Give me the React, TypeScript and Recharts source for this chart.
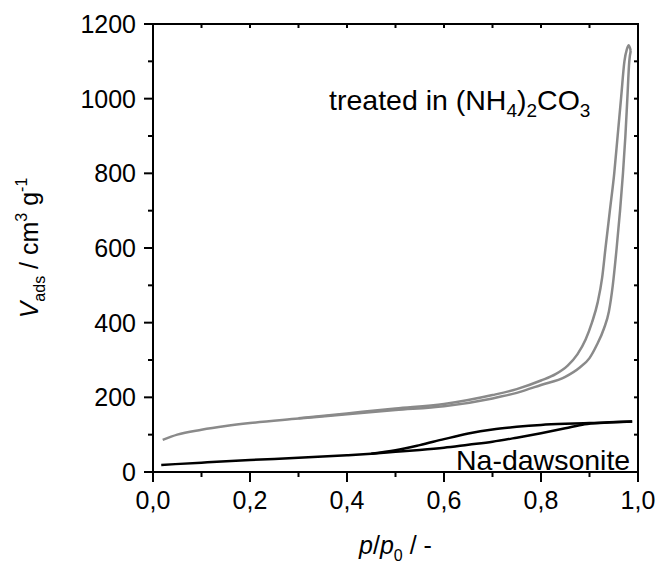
import React from "react";
import { LineChart, Line, XAxis, YAxis, ReferenceDot } from "recharts";

// treated in (NH4)2CO3 — adsorption branch
const treatedAdsP = [0.02, 0.05, 0.1, 0.15, 0.2, 0.3, 0.4, 0.5, 0.6, 0.7, 0.75, 0.8, 0.85, 0.88, 0.9, 0.915, 0.93, 0.94, 0.948, 0.956, 0.963, 0.969, 0.974, 0.978, 0.982, 0.985];
const treatedAdsV = [86, 100, 113, 123, 131, 143, 155, 166, 176, 197, 212, 233, 255, 280, 305, 340, 385, 430, 500, 600, 700, 800, 900, 1000, 1100, 1128];
// treated — desorption branch
const treatedDesP = [0.3, 0.4, 0.5, 0.6, 0.7, 0.75, 0.8, 0.83, 0.855, 0.875, 0.892, 0.905, 0.917, 0.926, 0.933, 0.942, 0.951, 0.958, 0.965, 0.972, 0.977, 0.981, 0.985];
const treatedDesV = [144, 157, 170, 182, 206, 222, 245, 262, 285, 315, 355, 400, 455, 520, 600, 700, 800, 900, 1000, 1100, 1132, 1143, 1128];
// Na-dawsonite
const naAdsP = [0.017, 0.1, 0.2, 0.3, 0.4, 0.45, 0.5, 0.55, 0.6, 0.65, 0.7, 0.75, 0.8, 0.85, 0.89, 0.93, 0.988];
const naAdsV = [19, 25, 32, 38, 45, 49, 54, 59, 65, 73, 81, 92, 104, 117, 128, 132, 135];
const naDesP = [0.45, 0.5, 0.55, 0.6, 0.65, 0.7, 0.75, 0.8, 0.85, 0.9, 0.95, 0.988];
const naDesV = [49, 58, 72, 88, 103, 114, 121, 126, 129, 131, 133, 135];

const xTicks = [0, 0.1, 0.2, 0.3, 0.4, 0.5, 0.6, 0.7, 0.8, 0.9, 1];
const yTicks = [0, 100, 200, 300, 400, 500, 600, 700, 800, 900, 1000, 1100, 1200];
const xMax = 1;
const yMax = 1200;

const toRows = (ps: number[], vs: number[]) => ps.map((p, i) => ({ p, v: vs[i] }));

const W = 657;
const H = 562;
const MARGIN = { top: 24, right: 19, bottom: 0, left: 0 };
const Y_AXIS_W = 153;
const X_AXIS_H = 90;
const PLOT = {
  left: MARGIN.left + Y_AXIS_W,
  right: W - MARGIN.right,
  top: MARGIN.top,
  bottom: H - MARGIN.bottom - X_AXIS_H,
};

const FONT = "Arial, 'Liberation Sans', sans-serif";
const GRAY = "#8a8a8a";

const isMajorX = (v: number) => Math.round(v * 10) % 2 === 0;
const isMajorY = (v: number) => Math.round(v) % 200 === 0;

const BottomTick = (props: any) => {
  const { x, y, payload } = props;
  const major = isMajorX(payload.value);
  return (
    <g>
      <line x1={x} y1={y} x2={x} y2={y + (major ? 10 : 5)} stroke="#000" strokeWidth={2} />
      {major && (
        <text x={x} y={y + 37} textAnchor="middle" fontSize={25} fontFamily={FONT} fill="#000">
          {payload.value.toFixed(1).replace(".", ",")}
        </text>
      )}
    </g>
  );
};

const LeftTick = (props: any) => {
  const { x, y, payload } = props;
  const major = isMajorY(payload.value);
  return (
    <g>
      <line x1={x - (major ? 9 : 5)} y1={y} x2={x} y2={y} stroke="#000" strokeWidth={2} />
      {major && (
        <text x={x - 17} y={y + 9} textAnchor="end" fontSize={25} fontFamily={FONT} fill="#000">
          {payload.value}
        </text>
      )}
    </g>
  );
};

const XTitle = (props: any) => {
  const { x, y, width } = props.viewBox;
  return (
    <text x={x + width / 2} y={y + 82} textAnchor="middle" fontSize={25} fontFamily={FONT} fill="#000">
      <tspan fontStyle="italic">p</tspan>
      <tspan>/</tspan>
      <tspan fontStyle="italic">p</tspan>
      <tspan fontSize={16} dy={7}>0</tspan>
      <tspan dy={-7}> / -</tspan>
    </text>
  );
};

const YTitle = (props: any) => {
  const { y, height } = props.viewBox;
  const cx = 38;
  const cy = y + height / 2;
  return (
    <text
      x={cx}
      y={cy}
      textAnchor="middle"
      transform={`rotate(-90 ${cx} ${cy})`}
      fontSize={25}
      fontFamily={FONT}
      fill="#000"
    >
      <tspan fontStyle="italic">V</tspan>
      <tspan fontSize={16} dy={7}>ads</tspan>
      <tspan dy={-7}> / cm</tspan>
      <tspan fontSize={16} dy={-11}>3</tspan>
      <tspan dy={11}> g</tspan>
      <tspan fontSize={16} dy={-11}>-1</tspan>
    </text>
  );
};

const TreatedLabel = (props: any) => {
  const { x, y } = props.viewBox;
  return (
    <text x={x} y={y} fontSize={28.5} fontFamily={FONT} fill="#000">
      <tspan>treated in (NH</tspan>
      <tspan fontSize={19} dy={7}>4</tspan>
      <tspan dy={-7}>)</tspan>
      <tspan fontSize={19} dy={7}>2</tspan>
      <tspan dy={-7}>CO</tspan>
      <tspan fontSize={19} dy={7}>3</tspan>
    </text>
  );
};

const NaLabel = (props: any) => {
  const { x, y } = props.viewBox;
  return (
    <text x={x} y={y} textAnchor="end" fontSize={28.5} fontFamily={FONT} fill="#000">
      Na-dawsonite
    </text>
  );
};

// top and right edges of the axis box with small inward ticks (mirror axes)
function BoxEdges() {
  const w = PLOT.right - PLOT.left;
  const h = PLOT.bottom - PLOT.top;
  return (
    <svg width={W} height={H} style={{ position: "absolute", left: 0, top: 0, pointerEvents: "none" }}>
      <polyline
        points={`${PLOT.left - 1},${PLOT.top} ${PLOT.right},${PLOT.top} ${PLOT.right},${PLOT.bottom + 1}`}
        fill="none"
        stroke="#000"
        strokeWidth={2}
      />
      {xTicks.map((t) => {
        const px = PLOT.left + (t / xMax) * w;
        return <line key={`t${t}`} x1={px} y1={PLOT.top} x2={px} y2={PLOT.top + 4} stroke="#000" strokeWidth={2} />;
      })}
      {yTicks.map((t) => {
        const py = PLOT.bottom - (t / yMax) * h;
        return <line key={`r${t}`} x1={PLOT.right - 4} y1={py} x2={PLOT.right} y2={py} stroke="#000" strokeWidth={2} />;
      })}
    </svg>
  );
}

export default function App() {
  return (
    <div style={{ position: "absolute", left: 0, top: 0, width: W, height: H, background: "#fff" }}>
      <LineChart width={W} height={H} margin={MARGIN}>
        <XAxis
          dataKey="p"
          type="number"
          domain={[0, xMax]}
          ticks={xTicks}
          interval={0}
          height={X_AXIS_H}
          tickSize={0}
          tickMargin={0}
          tickLine={false}
          axisLine={{ stroke: "#000", strokeWidth: 2 }}
          tick={<BottomTick />}
          label={{ content: <XTitle /> }}
          allowDataOverflow
        />
        <YAxis
          type="number"
          domain={[0, yMax]}
          ticks={yTicks}
          interval={0}
          width={Y_AXIS_W}
          tickSize={0}
          tickMargin={0}
          tickLine={false}
          axisLine={{ stroke: "#000", strokeWidth: 2 }}
          tick={<LeftTick />}
          label={{ content: <YTitle /> }}
          allowDataOverflow
        />
        <Line data={toRows(treatedAdsP, treatedAdsV)} dataKey="v" type="monotone" stroke={GRAY} strokeWidth={2.5} dot={false} isAnimationActive={false} />
        <Line data={toRows(treatedDesP, treatedDesV)} dataKey="v" type="monotone" stroke={GRAY} strokeWidth={2.5} dot={false} isAnimationActive={false} />
        <Line data={toRows(naAdsP, naAdsV)} dataKey="v" type="monotone" stroke="#000" strokeWidth={2.5} dot={false} isAnimationActive={false} />
        <Line data={toRows(naDesP, naDesV)} dataKey="v" type="monotone" stroke="#000" strokeWidth={2.5} dot={false} isAnimationActive={false} />
        <ReferenceDot x={0.363} y={970} r={0} stroke="none" fill="none" ifOverflow="visible" label={{ content: <TreatedLabel /> }} />
        <ReferenceDot x={0.984} y={6} r={0} stroke="none" fill="none" ifOverflow="visible" label={{ content: <NaLabel /> }} />
      </LineChart>
      <BoxEdges />
    </div>
  );
}
